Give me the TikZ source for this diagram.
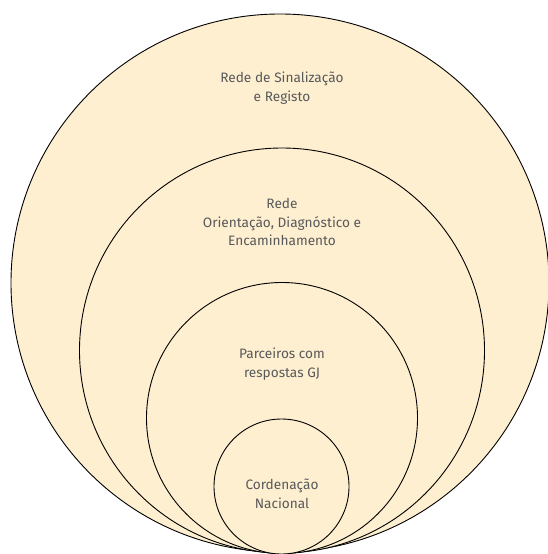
\documentclass[tikz,border=0pt]{standalone}
\usepackage{fontspec}
\setmainfont{Fira Sans}
\definecolor{ringfill}{HTML}{FEEFD0}
\definecolor{labelgray}{HTML}{58595B}
\tikzset{
    ring/.style={circle, draw=black, line width=0.9bp, fill=ringfill, inner sep=0pt},
    ringlabel/.style={align=center, text=labelgray, font=\fontsize{13.7}{18.5}\selectfont},
}
\begin{document}
\begin{tikzpicture}[x=1bp, y=-1bp]
\useasboundingbox (0,0) rectangle (548,554);

    \node[ring, minimum size=538bp] (sinalizacao) at (280,283) {};
    \node[ring, minimum size=405bp] (orientacao) at (282,350.5) {};
    \node[ring, minimum size=271bp] (parceiros) at (282,418) {};
    \node[ring, minimum size=135bp] (coordenacao) at (281.5,486.5) {};

    \node[ringlabel] (lsinalizacao) at (282,88) {Rede de Sinalização\\e Registo};
    \node[ringlabel] (lorientacao) at (282,222) {Rede\\Orientação, Diagnóstico e\\Encaminhamento};
    \node[ringlabel] (lparceiros) at (282,364) {Parceiros com\\respostas GJ};
    \node[ringlabel] (lcoordenacao) at (282,494) {Cordenação\\Nacional};

\end{tikzpicture}
\end{document}
